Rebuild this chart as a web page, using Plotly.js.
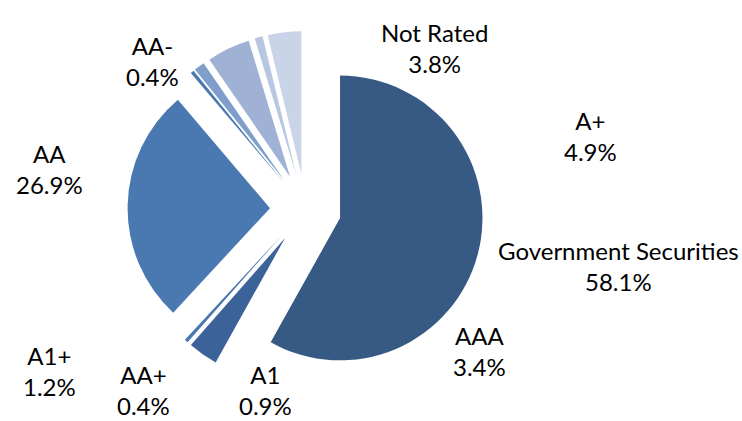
<!DOCTYPE html>
<html>
<head>
<meta charset="utf-8">
<script src="https://cdn.plot.ly/plotly-3.0.1.min.js"></script>
<style>html,body{margin:0;padding:0;background:#fff;}#chart{width:742px;height:421px;}</style>
</head>
<body>
<div id="chart"></div>
<script>
var categories = ["Government Securities", "AAA", "AA+", "AA", "AA-", "A1+", "A+", "A1", "Not Rated"];
var shares = [58.1, 3.4, 0.4, 26.9, 0.4, 1.2, 4.9, 0.9, 3.8];
var sliceColors = ["#375A84", "#3B6399", "#4A77AF", "#4A78B0", "#4A78B0", "#7F9ECC", "#9FB2D5", "#B7C6E1", "#C9D4E8"];

// label box centres in pixels (layout only)
var labelPos = {
  "Government Securities": [618, 266],
  "AAA": [480, 351],
  "AA+": [143, 390],
  "AA": [50, 169],
  "AA-": [152, 61],
  "A1+": [50, 371],
  "A+": [590, 136],
  "A1": [265, 390],
  "Not Rated": [435, 48]
};

var W = 742, H = 421;
var annotations = categories.map(function (c, i) {
  var p = labelPos[c];
  return {
    text: c + "<br>" + shares[i].toFixed(1) + "%",
    x: p[0] / W, y: 1 - p[1] / H,
    xref: "paper", yref: "paper",
    xanchor: "center", yanchor: "middle",
    showarrow: false,
    font: {family: "Lato, 'Open Sans', sans-serif", size: 24, color: "#000"}
  };
});

var cx = 305.6, cy = 209, half = 178;
var trace = {
  type: "pie",
  labels: categories,
  values: shares,
  sort: false,
  direction: "clockwise",
  rotation: 0,
  pull: 0.25,
  textinfo: "none",
  hoverinfo: "none",
  marker: {colors: sliceColors, line: {width: 0}},
  domain: {x: [(cx - half) / W, (cx + half) / W], y: [1 - (cy + half) / H, 1 - (cy - half) / H]}
};

Plotly.newPlot("chart", [trace], {
  width: W, height: H,
  margin: {l: 0, r: 0, t: 0, b: 0},
  showlegend: false,
  paper_bgcolor: "#fff",
  annotations: annotations
}, {displayModeBar: false, staticPlot: true});
</script>
</body>
</html>
